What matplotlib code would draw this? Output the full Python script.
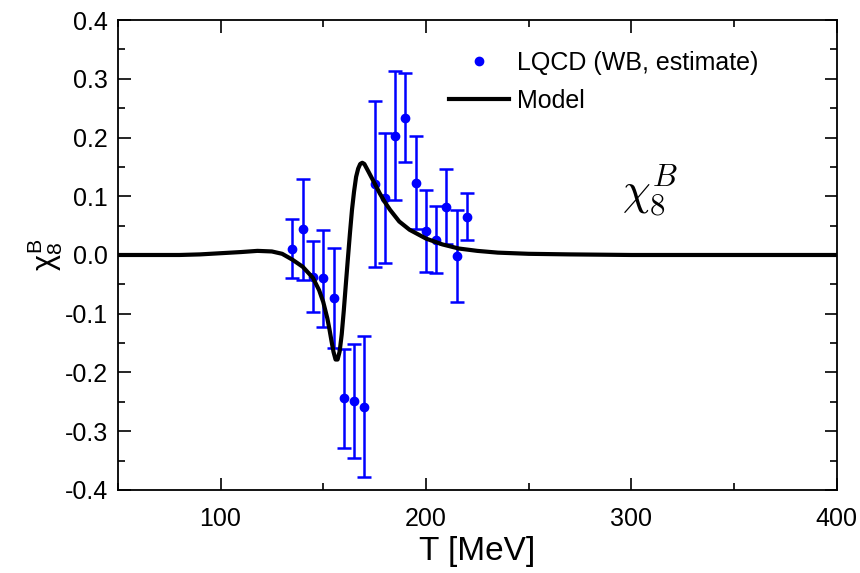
import numpy as np
import matplotlib
matplotlib.use('Agg')
import matplotlib.pyplot as plt
from matplotlib.ticker import MultipleLocator
from matplotlib.lines import Line2D

plt.rcParams['font.family'] = ['Liberation Sans', 'DejaVu Sans']
plt.rcParams['mathtext.fontset'] = 'custom'
plt.rcParams['mathtext.rm'] = 'Liberation Sans'
plt.rcParams['mathtext.it'] = 'Liberation Sans'

# lattice points (WB estimate)
T_lqcd = [135, 140, 145, 150, 155, 160, 165, 170, 175, 180, 185, 190, 195, 200, 205, 210, 215, 220]
chi8_lqcd = [0.011, 0.044, -0.037, -0.040, -0.073, -0.244, -0.248, -0.258, 0.121, 0.097,
             0.203, 0.234, 0.123, 0.041, 0.026, 0.082, -0.002, 0.065]
chi8_err = [0.050, 0.086, 0.060, 0.082, 0.085, 0.084, 0.097, 0.120, 0.142, 0.110,
            0.110, 0.076, 0.079, 0.070, 0.057, 0.064, 0.078, 0.040]

# model curve
T_model = [50, 80, 90, 100, 110, 118, 125, 130, 135, 140, 145, 148, 150, 152, 153, 154, 155,
           156, 157, 158, 159, 160, 161, 162, 163, 164, 165, 166, 167, 168, 169, 170, 172,
           175, 177.5, 180, 182.5, 187, 192, 200, 208, 216, 225, 235, 250, 270, 300, 400]
chi8_model = [0.0, 0.0, 0.001, 0.003, 0.005, 0.007, 0.006, 0.002, -0.008, -0.020, -0.039,
              -0.060, -0.080, -0.108, -0.126, -0.146, -0.165, -0.178, -0.178, -0.164,
              -0.135, -0.095, -0.050, -0.006, 0.037, 0.077, 0.108, 0.133, 0.147, 0.155,
              0.157, 0.155, 0.142, 0.122, 0.105, 0.090, 0.077, 0.057, 0.043, 0.028, 0.018,
              0.011, 0.007, 0.004, 0.002, 0.001, 0.0, 0.0]

fig = plt.figure(figsize=(8.6, 5.73), dpi=100)
ax = fig.add_axes([0.137, 0.145, 0.836, 0.82])

ax.errorbar(T_lqcd, chi8_lqcd, yerr=chi8_err, fmt='o', color='blue', ms=6,
            elinewidth=1.8, capsize=5, capthick=1.8, zorder=2)
ax.plot(T_model, chi8_model, color='black', lw=3, zorder=3)

ax.set_xlim(50, 400)
ax.set_ylim(-0.4, 0.4)
ax.xaxis.set_major_locator(MultipleLocator(100))
ax.xaxis.set_minor_locator(MultipleLocator(50))
ax.yaxis.set_major_locator(MultipleLocator(0.1))
ax.yaxis.set_minor_locator(MultipleLocator(0.05))
ax.tick_params(which='both', direction='in', top=True, right=True, labelsize=18, width=1.2)
ax.tick_params(which='major', length=9)
ax.tick_params(which='minor', length=5)
ax.tick_params(axis='x', which='major', pad=12)
ax.tick_params(axis='y', which='major', pad=7)
ax.yaxis.set_major_formatter(matplotlib.ticker.FormatStrFormatter('%.1f'))
for s in ax.spines.values():
    s.set_linewidth(1.3)

ax.set_xlabel('T [MeV]', fontsize=24, labelpad=4)
ax.set_ylabel(r'$\chi_8^\mathrm{B}$', fontsize=22, labelpad=0)

ax.text(309, 0.11, r'$\chi_8^B$', fontsize=32, math_fontfamily='cm', ha='center', va='center')

handles = [Line2D([], [], ls='none', marker='o', color='blue', ms=6),
           Line2D([], [], color='black', lw=3)]
ax.legend(handles, ['LQCD (WB, estimate)', 'Model'], loc='upper left',
          bbox_to_anchor=(0.447, 0.955), frameon=False, fontsize=18,
          handlelength=2.4, handletextpad=0.3, labelspacing=0.55, borderaxespad=0)

fig.savefig('out.png', dpi=100)
